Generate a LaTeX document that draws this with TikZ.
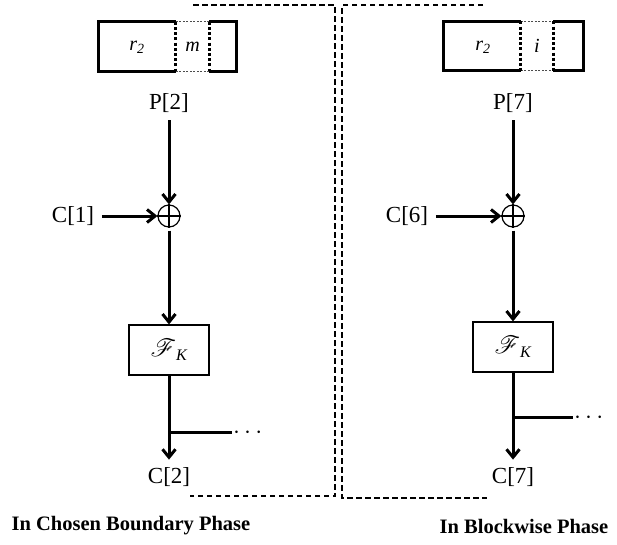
\documentclass[tikz,border=0pt]{standalone}
\usepackage{fontspec}
\setmainfont{Liberation Serif}
\usepackage{mathrsfs}
\usetikzlibrary{arrows.meta}
\usetikzlibrary{positioning}
\usetikzlibrary{calc}
\tikzset{
    % Large open arrow heads on the data path
    >={Straight Barb[length=8pt,width=13pt]},
%
    % Heavy line carrying the blocks
    flow/.style={line width=3pt},
%
    % The message register and its marked cell
    register/.style={minimum width=137pt, minimum height=49pt, inner sep=0},
    register side/.style={line width=3.2pt},
    cell/.style={minimum height=49pt, inner sep=0,
        font=\fontsize{20}{22}\selectfont},
    cell side/.style={line width=3pt, dash pattern=on 3pt off 2.2pt},
    cell edge/.style={line width=1.2pt, dash pattern=on 2pt off 1.5pt, black!70},
    inner text/.style={font=\fontsize{20}{22}\selectfont},
%
    % Exclusive or and the keyed function
    xor/.style={draw, line width=1.2pt, circle, minimum size=22pt, inner sep=0},
    prf/.style={draw, line width=1.2pt, minimum width=80pt, minimum height=50pt,
        font=\fontsize{23}{25}\selectfont},
%
    % The dashed outline round each phase
    phase frame/.style={line width=1.1pt, dash pattern=on 5.5pt off 3.5pt},
    phase title/.style={font=\bfseries\fontsize{20.5}{24}\selectfont}}

\begin{document}
\begin{tikzpicture}[x=1pt, y=-1pt]
\useasboundingbox (0,0) rectangle (617,544);
\fontsize{23}{26}\selectfont

% Chosen boundary phase: register holding r_2 and m
\node [register] (left reg) at (167.5,46.5) {};
\node [cell, minimum width=33pt] (left cell) at (192.5,46.5) {\itshape m};
\node [inner text] (left r) at (137,47) {\itshape r\textsubscript{2}};
\draw [register side] (left cell.north west) -- (left cell.north west -| left reg.west)
    |- (left cell.south west);
\draw [register side] (left cell.north east) -- (left cell.north east -| left reg.east)
    |- (left cell.south east);
\draw [cell edge] (left cell.north west) -- (left cell.north east)
    (left cell.south west) -- (left cell.south east);
\draw [cell side] (left cell.north west) -- (left cell.south west)
    (left cell.north east) -- (left cell.south east);

% Chosen boundary phase: data path
\node (left p) at (169,103) {P[2]};
\node [xor] (left xor) at (169,216) {};
\draw [line width=1.2pt] (left xor.north) -- (left xor.south)
    (left xor.west) -- (left xor.east);
\node (left c in) at (73,216) {C[1]};
\node [prf] (left prf) at (169,350) {$\mathscr{F}$\textsubscript{\itshape K}};
\node (left c out) at (169,477) {C[2]};
\coordinate (left fork) at ($(left prf.south)!0.68!(left c out.north)$);
\coordinate (left tap) at ($(left fork)+(63,0)$);
\node [anchor=west, inner sep=1pt] (left more) at (left tap) {$\cdots$};

\draw [flow, ->] (left p) -- (left xor);
\draw [flow, ->] (left c in) -- (left xor);
\draw [flow, ->, shorten <=3pt] (left xor) -- (left prf);
\draw [flow, ->] (left prf) -- (left c out);
\draw [flow] (left fork) -- (left tap);

% Blockwise phase: register holding r_2 and i
\node [register, minimum width=139pt] (right reg) at (513.5,46) {};
\node [cell, minimum width=32pt] (right cell) at (537,46) {\itshape i};
\node [inner text] (right r) at (483,47) {\itshape r\textsubscript{2}};
\draw [register side] (right cell.north west) -- (right cell.north west -| right reg.west)
    |- (right cell.south west);
\draw [register side] (right cell.north east) -- (right cell.north east -| right reg.east)
    |- (right cell.south east);
\draw [cell edge] (right cell.north west) -- (right cell.north east)
    (right cell.south west) -- (right cell.south east);
\draw [cell side] (right cell.north west) -- (right cell.south west)
    (right cell.north east) -- (right cell.south east);

% Blockwise phase: data path
\node (right p) at (513,103) {P[7]};
\node [xor] (right xor) at (513,216) {};
\draw [line width=1.2pt] (right xor.north) -- (right xor.south)
    (right xor.west) -- (right xor.east);
\node (right c in) at (407,216) {C[6]};
\node [prf] (right prf) at (513,347) {$\mathscr{F}$\textsubscript{\itshape K}};
\node (right c out) at (513,477) {C[7]};
\coordinate (right fork) at ($(right prf.south)!0.52!(right c out.north)$);
\coordinate (right tap) at ($(right fork)+(60,0)$);
\node [anchor=west, inner sep=1pt] (right more) at (right tap) {$\cdots$};

\draw [flow, ->] (right p) -- (right xor);
\draw [flow, ->] (right c in) -- (right xor);
\draw [flow, ->, shorten <=3pt] (right xor) -- (right prf);
\draw [flow, ->] (right prf) -- (right c out);
\draw [flow] (right fork) -- (right tap);

% Dashed outlines of the two phases
\draw [phase frame] (193,5) -- (335,5) -- (335,496) -- (190,496);
\draw [phase frame] (483,5) -- (342,5) -- (342,498) -- (487,498);

\node [phase title] (left title) at (131,526) {In Chosen Boundary Phase};
\node [phase title] (right title) at (524,526) {In Blockwise Phase};

\end{tikzpicture}
\end{document}
